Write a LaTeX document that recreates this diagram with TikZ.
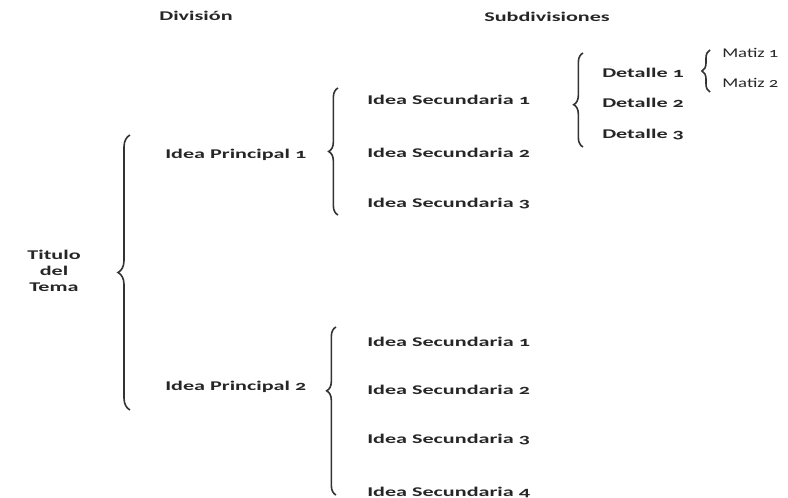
\documentclass[tikz,border=0pt]{standalone}
\usepackage{fontspec}
\setmainfont[Numbers=OldStyle]{Carlito}
\usepackage{tikz}
\usetikzlibrary{decorations.pathreplacing}

\newcommand{\ancho}[1]{\scalebox{1.66}[1]{#1}}

\tikzset{
  txt/.style={anchor=west, inner sep=0pt, text=black!85, font=\fontsize{10}{12}\selectfont\bfseries},
  llave/.style={draw=black!80, line width=1.2pt, decorate, decoration={brace, amplitude=#1}},
  llave/.default=7pt
}

\begin{document}
\begin{tikzpicture}[x=0.75pt, y=-0.75pt]
\useasboundingbox (0,0) rectangle (788,498);
% encabezados
\node[txt, anchor=center] (div) at (196,16) {\ancho{División}};
\node[txt, anchor=center] (sub) at (547,17) {\ancho{Subdivisiones}};
% tema
\node[txt, anchor=center, align=center] (tema) at (54,271) {\ancho{Titulo}\\\ancho{del}\\\ancho{Tema}};
\draw[llave=9pt] (130,410) -- (130,135);
% division
\node[txt] (ip1) at (165,155) {\ancho{Idea Principal 1}};
\node[txt] (ip2) at (165,387) {\ancho{Idea Principal 2}};
\draw[llave] (338,215) -- (338,88);
\draw[llave, decoration={aspect=0.62}] (336,495) -- (336,327);
% subdivisiones
\node[txt] (isa1) at (367,100) {\ancho{Idea Secundaria 1}};
\node[txt] (isa2) at (367,153) {\ancho{Idea Secundaria 2}};
\node[txt] (isa3) at (367,204) {\ancho{Idea Secundaria 3}};
\node[txt] (isb1) at (367,342) {\ancho{Idea Secundaria 1}};
\node[txt] (isb2) at (367,390) {\ancho{Idea Secundaria 2}};
\node[txt] (isb3) at (367,440) {\ancho{Idea Secundaria 3}};
\node[txt] (isb4) at (367,492) {\ancho{Idea Secundaria 4}};
% detalles
\draw[llave, decoration={aspect=0.45}] (583,147) -- (583,53);
\node[txt] (det1) at (602,73) {\ancho{Detalle 1}};
\node[txt] (det2) at (602,103) {\ancho{Detalle 2}};
\node[txt] (det3) at (602,135) {\ancho{Detalle 3}};
\draw[llave=6pt] (710,92) -- (710,50);
\node[txt, font=\fontsize{10}{12}\selectfont\mdseries] (mat1) at (722,53) {\scalebox{1.4}[1]{Matiz 1}};
\node[txt, font=\fontsize{10}{12}\selectfont\mdseries] (mat2) at (722,83) {\scalebox{1.4}[1]{Matiz 2}};
\end{tikzpicture}
\end{document}
